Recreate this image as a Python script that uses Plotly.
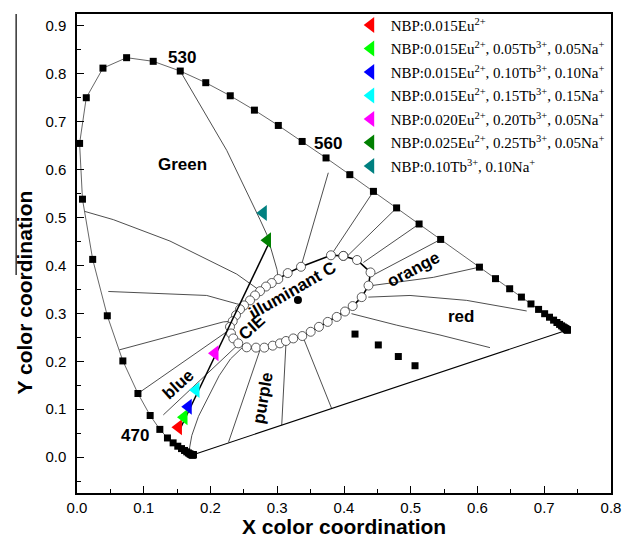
import plotly.graph_objects as go

# ---------------- data ----------------
# CIE 1931 spectral locus (5 nm steps, 590 nm not marked in the reference)
locus_nm = [380, 385, 390, 395, 400, 405, 410, 415, 420, 425, 430, 435, 440, 445, 450,
            455, 460, 465, 470, 475, 480, 485, 490, 495, 500, 505, 510, 515, 520, 525,
            530, 535, 540, 545, 550, 555, 560, 565, 570, 575, 580, 585, 595, 600, 605,
            610, 615, 620, 625, 630, 635, 640, 645, 650, 655, 660, 665, 670, 675, 680,
            685, 690, 695, 700]
locus_x = [0.1741, 0.1740, 0.1738, 0.1736, 0.1733, 0.1730, 0.1726, 0.1721, 0.1714, 0.1703,
           0.1689, 0.1669, 0.1644, 0.1611, 0.1566, 0.1510, 0.1440, 0.1355, 0.1241, 0.1096,
           0.0913, 0.0687, 0.0454, 0.0235, 0.0082, 0.0039, 0.0139, 0.0389, 0.0743, 0.1142,
           0.1547, 0.1929, 0.2296, 0.2658, 0.3016, 0.3373, 0.3731, 0.4087, 0.4441, 0.4788,
           0.5125, 0.5448, 0.6029, 0.6270, 0.6482, 0.6658, 0.6801, 0.6915, 0.7006, 0.7079,
           0.7140, 0.7190, 0.7230, 0.7260, 0.7283, 0.7300, 0.7311, 0.7320, 0.7327, 0.7334,
           0.7340, 0.7344, 0.7346, 0.7347]
locus_y = [0.0050, 0.0050, 0.0049, 0.0049, 0.0048, 0.0048, 0.0048, 0.0048, 0.0051, 0.0058,
           0.0069, 0.0086, 0.0109, 0.0138, 0.0177, 0.0227, 0.0297, 0.0399, 0.0578, 0.0868,
           0.1327, 0.2007, 0.2950, 0.4127, 0.5384, 0.6548, 0.7502, 0.8120, 0.8338, 0.8262,
           0.8059, 0.7816, 0.7543, 0.7243, 0.6923, 0.6589, 0.6245, 0.5896, 0.5547, 0.5202,
           0.4866, 0.4544, 0.3965, 0.3725, 0.3514, 0.3340, 0.3197, 0.3083, 0.2993, 0.2920,
           0.2859, 0.2809, 0.2770, 0.2740, 0.2717, 0.2700, 0.2689, 0.2680, 0.2673, 0.2666,
           0.2660, 0.2656, 0.2654, 0.2653]

# line of purples
purple_x = [0.1741, 0.7347]
purple_y = [0.0050, 0.2653]

# open circles around the white region
loop_x = [0.3990, 0.3805, 0.3356, 0.3157, 0.3016, 0.2917, 0.2831, 0.2742, 0.2667, 0.2592,
          0.2502, 0.2442, 0.2382, 0.2333, 0.2292, 0.2307, 0.2342, 0.2416, 0.2542, 0.2682,
          0.2806, 0.2932, 0.3041, 0.3131, 0.3240, 0.3375, 0.3501, 0.3625, 0.3756, 0.3891,
          0.4015, 0.4130, 0.4265, 0.4367, 0.4397, 0.4195, 0.3990]
loop_y = [0.4200, 0.4213, 0.3973, 0.3841, 0.3717, 0.3634, 0.3560, 0.3463, 0.3374, 0.3271,
          0.3167, 0.3085, 0.2961, 0.2837, 0.2719, 0.2581, 0.2477, 0.2374, 0.2291, 0.2285,
          0.2285, 0.2326, 0.2374, 0.2424, 0.2477, 0.2527, 0.2616, 0.2719, 0.2822, 0.2926,
          0.3039, 0.3153, 0.3339, 0.3581, 0.3855, 0.4114, 0.4200]

illum_x = [0.331]
illum_y = [0.328]

extra_x = [0.4165, 0.4514, 0.4814, 0.5064]
extra_y = [0.2568, 0.2341, 0.2099, 0.1907]

# region boundary lines
green_bx = [0.1547, 0.2243, 0.2742, 0.2846, 0.2996, 0.3016]
green_by = [0.8059, 0.6403, 0.4957, 0.4640, 0.3917, 0.3717]
l560_x = [0.3765, 0.3366]
l560_y = [0.5936, 0.4027]
l570_x = [0.4441, 0.3805]
l570_y = [0.5547, 0.4213]
l575_x = [0.4788, 0.4060]
l575_y = [0.5202, 0.4210]
l580_x = [0.5125, 0.4290]
l580_y = [0.4866, 0.4062]
l585_x = [0.5448, 0.4464]
l585_y = [0.4544, 0.3820]
l595_x = [0.6029, 0.5338, 0.4415]
l595_y = [0.3965, 0.3752, 0.3581]
redup_x = [0.4364, 0.4989, 0.5838, 0.6737]
redup_y = [0.3339, 0.3374, 0.3271, 0.3050]
redlo_x = [0.4112, 0.4790, 0.5438, 0.6187]
redlo_y = [0.2994, 0.2754, 0.2548, 0.2285]
bg_a_x = [0.0113, 0.0544, 0.1393, 0.2393, 0.2712]
bg_a_y = [0.5130, 0.4957, 0.4510, 0.3820, 0.3504]
bg_b_x = [0.0469, 0.1943, 0.2393, 0.2502]
bg_b_y = [0.3457, 0.3374, 0.3200, 0.3167]
bl_c_x = [0.0634, 0.2192, 0.2333]
bl_c_y = [0.2238, 0.2822, 0.2837]
bl_d_x = [0.0913, 0.2243, 0.2307]
bl_d_y = [0.1327, 0.2616, 0.2581]
bl_e_x = [0.1293, 0.2400, 0.2416]
bl_e_y = [0.0880, 0.2330, 0.2374]
bl_f_x = [0.1680, 0.1720, 0.1820, 0.1970, 0.2130, 0.2300, 0.2480]
bl_f_y = [0.0140, 0.0450, 0.0850, 0.1250, 0.1700, 0.2050, 0.2290]
pu_1_x = [0.2270, 0.2742]
pu_1_y = [0.0310, 0.2238]
pu_2_x = [0.3067, 0.3130]
pu_2_y = [0.0666, 0.2360]
pu_3_x = [0.3816, 0.3380]
pu_3_y = [0.1010, 0.2527]

# trend line through the samples
trend_x = [0.1532, 0.2891]
trend_y = [0.0550, 0.4510]

# samples
sample_names = [
    "NBP:0.015Eu<sup>2+</sup>",
    "NBP:0.015Eu<sup>2+</sup>, 0.05Tb<sup>3+</sup>, 0.05Na<sup>+</sup>",
    "NBP:0.015Eu<sup>2+</sup>, 0.10Tb<sup>3+</sup>, 0.10Na<sup>+</sup>",
    "NBP:0.015Eu<sup>2+</sup>, 0.15Tb<sup>3+</sup>, 0.15Na<sup>+</sup>",
    "NBP:0.020Eu<sup>2+</sup>, 0.20Tb<sup>3+</sup>, 0.05Na<sup>+</sup>",
    "NBP:0.025Eu<sup>2+</sup>, 0.25Tb<sup>3+</sup>, 0.05Na<sup>+</sup>",
    "NBP:0.10Tb<sup>3+</sup>, 0.10Na<sup>+</sup>",
]
sample_x = [0.1520, 0.1603, 0.1667, 0.1783, 0.2067, 0.2854, 0.2791]
sample_y = [0.0622, 0.0833, 0.1050, 0.1400, 0.2167, 0.4527, 0.5095]
sample_colors = ["#ff0000", "#00ff00", "#0000ff", "#00ffff", "#ff00ff", "#008000", "#008080"]

# text labels
label_text = ["530", "560", "470", "Green", "blue", "purple", "CIE", "illuminant C", "orange", "red"]
label_x = [0.157, 0.3765, 0.0869, 0.1583, 0.1518, 0.279, 0.262, 0.3226, 0.5039, 0.575]
label_y = [0.835, 0.6556, 0.0446, 0.6107, 0.1514, 0.1238, 0.270, 0.3477, 0.3924, 0.2925]
label_angle = [0, 0, 0, 0, -42, -80, -42, -30, -28, 0]

# ---------------- figure ----------------
fig = go.Figure()

boundaries = [(green_bx, green_by), (l560_x, l560_y), (l570_x, l570_y), (l575_x, l575_y),
              (l580_x, l580_y), (l585_x, l585_y), (l595_x, l595_y), (redup_x, redup_y),
              (redlo_x, redlo_y), (bg_a_x, bg_a_y), (bg_b_x, bg_b_y), (bl_c_x, bl_c_y),
              (bl_d_x, bl_d_y), (bl_e_x, bl_e_y), (bl_f_x, bl_f_y), (pu_1_x, pu_1_y),
              (pu_2_x, pu_2_y), (pu_3_x, pu_3_y)]
for bx, by in boundaries:
    fig.add_trace(go.Scatter(x=bx, y=by, mode="lines", line=dict(color="#3a3a3a", width=0.9),
                             showlegend=False, hoverinfo="skip"))

fig.add_trace(go.Scatter(x=purple_x, y=purple_y, mode="lines",
                         line=dict(color="black", width=1.1), showlegend=False))

fig.add_trace(go.Scatter(x=locus_x, y=locus_y, mode="lines+markers",
                         line=dict(color="#555555", width=0.9),
                         marker=dict(symbol="square", size=7, color="black"),
                         customdata=locus_nm, showlegend=False))

fig.add_trace(go.Scatter(x=loop_x, y=loop_y, mode="lines+markers",
                         line=dict(color="black", width=1.6),
                         marker=dict(symbol="circle", size=9, color="white",
                                     line=dict(color="#333333", width=0.8)),
                         showlegend=False))

fig.add_trace(go.Scatter(x=illum_x, y=illum_y, mode="markers",
                         marker=dict(symbol="circle", size=8, color="black"), showlegend=False))

fig.add_trace(go.Scatter(x=extra_x, y=extra_y, mode="markers",
                         marker=dict(symbol="square", size=7, color="black"), showlegend=False))

fig.add_trace(go.Scatter(x=trend_x, y=trend_y, mode="lines",
                         line=dict(color="black", width=1.5), showlegend=False))

for i, nm in enumerate(sample_names):
    fig.add_trace(go.Scatter(x=[sample_x[i]], y=[sample_y[i]], mode="markers", name=nm,
                             legendgroup="g%d" % i,
                             marker=dict(symbol="triangle-left", size=14, color=sample_colors[i],
                                         line=dict(width=0))))

for t, lx, ly, ang in zip(label_text, label_x, label_y, label_angle):
    fig.add_annotation(x=lx, y=ly, xref="x", yref="y", text="<b>%s</b>" % t, showarrow=False,
                       textangle=ang, font=dict(family="Liberation Sans, Arial", size=17, color="black"))

# axis titles
fig.add_annotation(x=0.5, y=-0.0705, xref="paper", yref="paper", text="<b>X color coordination</b>",
                   showarrow=False, yanchor="middle",
                   font=dict(family="Liberation Sans, Arial", size=21, color="black"))
fig.add_annotation(x=-0.099, y=0.419, xref="paper", yref="paper", text="<b>Y color coordination</b>",
                   showarrow=False, textangle=-90, xanchor="center", yanchor="middle",
                   font=dict(family="Liberation Sans, Arial", size=21, color="black"))

# thin vertical stroke left of the Y title (present in the reference)
fig.add_shape(type="line", xref="paper", yref="paper", x0=-0.114, x1=-0.114, y0=0.455, y1=1.0,
              line=dict(color="black", width=1.2), layer="above")

axis_common = dict(showline=True, linecolor="black", linewidth=1.5, mirror=True,
                   ticks="inside", ticklen=7, tickwidth=1.2, tickcolor="black",
                   showgrid=False, zeroline=False, dtick=0.1, tick0=0, tickformat=".1f",
                   tickfont=dict(family="Liberation Sans, Arial", size=15, color="black"),
                   minor=dict(ticks="inside", ticklen=4, dtick=0.05, tickcolor="black", tickwidth=1.2))

fig.update_xaxes(range=[0, 0.8], ticklabelstandoff=0, **axis_common)
fig.update_yaxes(range=[-0.075, 0.925], ticklabelstandoff=6, **axis_common)

fig.update_layout(
    width=633, height=547,
    margin=dict(l=77, r=22, t=9, b=54),
    plot_bgcolor="white", paper_bgcolor="white",
    legend=dict(x=0.5125, y=1.011, xanchor="left", yanchor="top", bgcolor="rgba(0,0,0,0)",
                font=dict(family="Liberation Serif, Times New Roman", size=15, color="black"),
                tracegroupgap=1),
)

fig.write_html("out.html", config={"displayModeBar": False},
               post_script="document.body.style.margin='0';")
